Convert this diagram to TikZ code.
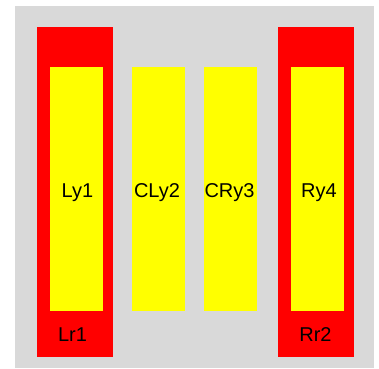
\documentclass[tikz,border=0pt]{standalone}
\usepackage{fontspec}
\setmainfont{Liberation Sans}
\definecolor{panelgray}{HTML}{D9D9D9}
\definecolor{rimred}{HTML}{FF0000}
\definecolor{coreyellow}{HTML}{FFFF00}
\tikzset{
    lbl/.style={font=\fontsize{20}{24}\selectfont,anchor=base,inner sep=0pt},
}
\begin{document}
\begin{tikzpicture}[x=1pt,y=-1pt]
            \useasboundingbox (0,0) rectangle (379,368);
            \fill[panelgray] (15,6) rectangle (374,368);
            \fill[rimred] (37,27) rectangle (113,357);
            \fill[rimred] (278,27) rectangle (354,357);
            \foreach \u in {50,132,204,291}{
                    \fill[coreyellow] (\u,67) rectangle ++(53,244);
                }
            \foreach \u \v \w in {77.5/ly1/Ly1, 157/cly2/CLy2, 229.5/cry3/CRy3, 319/ry4/Ry4}
            \node[lbl] (\v) at (\u,197) {\w};
            \node[lbl] (lr1) at (72.5,341) {Lr1};
            \node[lbl] (rr2) at (315.5,341) {Rr2};
        \end{tikzpicture}
\end{document}
